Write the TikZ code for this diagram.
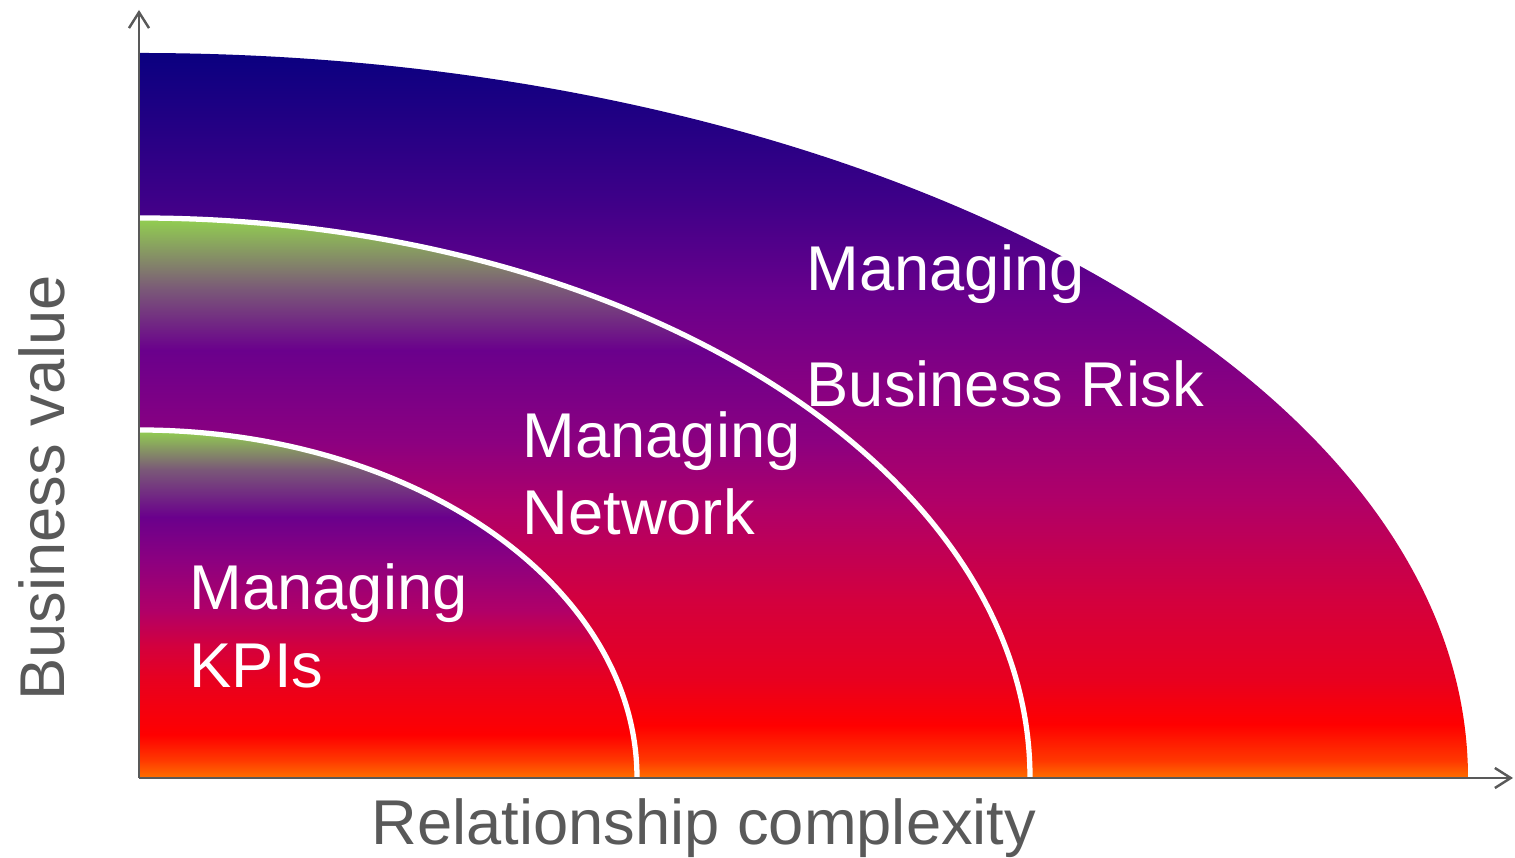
\documentclass[tikz,border=0pt]{standalone}
\usepackage{fontspec}
\setmainfont{Liberation Sans}
\usetikzlibrary{arrows.meta,positioning}

\definecolor{axisgrey}{HTML}{595959}
\definecolor{c-orange}{HTML}{FF7000}
\definecolor{c-orred}{HTML}{FF3800}
\definecolor{c-red}{HTML}{FF0000}
\definecolor{c-scarlet}{HTML}{E8001F}
\definecolor{c-crimson}{HTML}{D3003E}
\definecolor{c-magenta}{HTML}{B00068}
\definecolor{c-plum}{HTML}{8C0080}
\definecolor{c-purple}{HTML}{6A008C}
\definecolor{c-violet}{HTML}{3E0088}
\definecolor{c-navy}{HTML}{0A0080}
\definecolor{c-grey}{HTML}{7A5878}
\definecolor{c-green}{HTML}{92D050}

% stops 25bp..75bp cover the bounding box of the filled path
\pgfdeclareverticalshading{riskshade}{100bp}{color(0bp)=(c-orange); color(25bp)=(c-orange);
	color(26.2bp)=(c-orred); color(28.7bp)=(c-red); color(31.8bp)=(c-scarlet);
	color(37.3bp)=(c-crimson); color(44.2bp)=(c-magenta); color(51.1bp)=(c-plum);
	color(58bp)=(c-purple); color(64.9bp)=(c-violet); color(75bp)=(c-navy); color(100bp)=(c-navy)}
\pgfdeclareverticalshading{netshade}{100bp}{color(0bp)=(c-orange); color(25bp)=(c-orange);
	color(26.6bp)=(c-orred); color(29.7bp)=(c-red); color(33.8bp)=(c-scarlet);
	color(40.9bp)=(c-crimson); color(49bp)=(c-magenta); color(55bp)=(c-plum);
	color(63.2bp)=(c-purple); color(68.6bp)=(c-grey); color(75bp)=(c-green); color(100bp)=(c-green)}
\pgfdeclareverticalshading{kpishade}{100bp}{color(0bp)=(c-orange); color(25bp)=(c-orange);
	color(27.6bp)=(c-orred); color(31.2bp)=(c-red); color(39.1bp)=(c-scarlet);
	color(44bp)=(c-crimson); color(49.1bp)=(c-magenta); color(56.3bp)=(c-plum);
	color(62.5bp)=(c-purple); color(69.3bp)=(c-grey); color(75bp)=(c-green); color(100bp)=(c-green)}

\begin{document}
\begin{tikzpicture}[
	axis/.style	={draw=axisgrey, line width=0.7pt, -{Straight Barb[length=4.5pt,width=5.7pt]}},
	divider/.style	={draw=white, line width=1.5pt},
	label/.style	={text=white, inner sep=0pt, anchor=base west, font=\fontsize{18}{21}\selectfont},
	axislabel/.style={text=axisgrey, inner sep=0pt, anchor=base, font=\fontsize{18}{21}\selectfont},
	]
	\useasboundingbox (-1.39,-0.80) rectangle (13.76,7.78);
	
	% layers
	\shade [shading=riskshade] (0,0) -- (13.29,0) arc[start angle=0, end angle=90, x radius=13.29, y radius=7.25] -- cycle;
	\shade [shading=netshade] (0,0) -- (8.91,0) arc[start angle=0, end angle=90, x radius=8.91, y radius=5.60] -- cycle;
	\shade [shading=kpishade] (0,0) -- (4.98,0) arc[start angle=0, end angle=90, x radius=4.98, y radius=3.48] -- cycle;
	
	\foreach \rx/\ry in {8.91/5.60, 4.98/3.48}
	{
		\draw [divider] (\rx,0) arc[start angle=0, end angle=90, x radius=\rx, y radius=\ry];
	}
	
	% axes
	\coordinate (O) at (0,0);
	\coordinate (ytop) at (0,7.68);
	\coordinate (xend) at (13.74,0);
	\draw [axis] (O) -- (ytop);
	\draw [axis] (O) -- (xend);
	
	\node [axislabel, rotate=90] (yl) at (-0.74,2.90) {Business value};
	\node [axislabel] (xl) at (5.65,-0.67) {Relationship complexity};
	
	\node [label] (riskA) at (6.67,4.87) {Managing};
	\node [label] (riskB) at ([yshift=-1.16cm]riskA.base west) {Business Risk};
	\node [label] (netA) at (3.83,3.20) {Managing};
	\node [label] (netB) at ([yshift=-0.77cm]netA.base west) {Network};
	\node [label] (kpiA) at (0.50,1.68) {Managing};
	\node [label] (kpiB) at ([yshift=-0.78cm]kpiA.base west) {KPIs};
\end{tikzpicture}
\end{document}
